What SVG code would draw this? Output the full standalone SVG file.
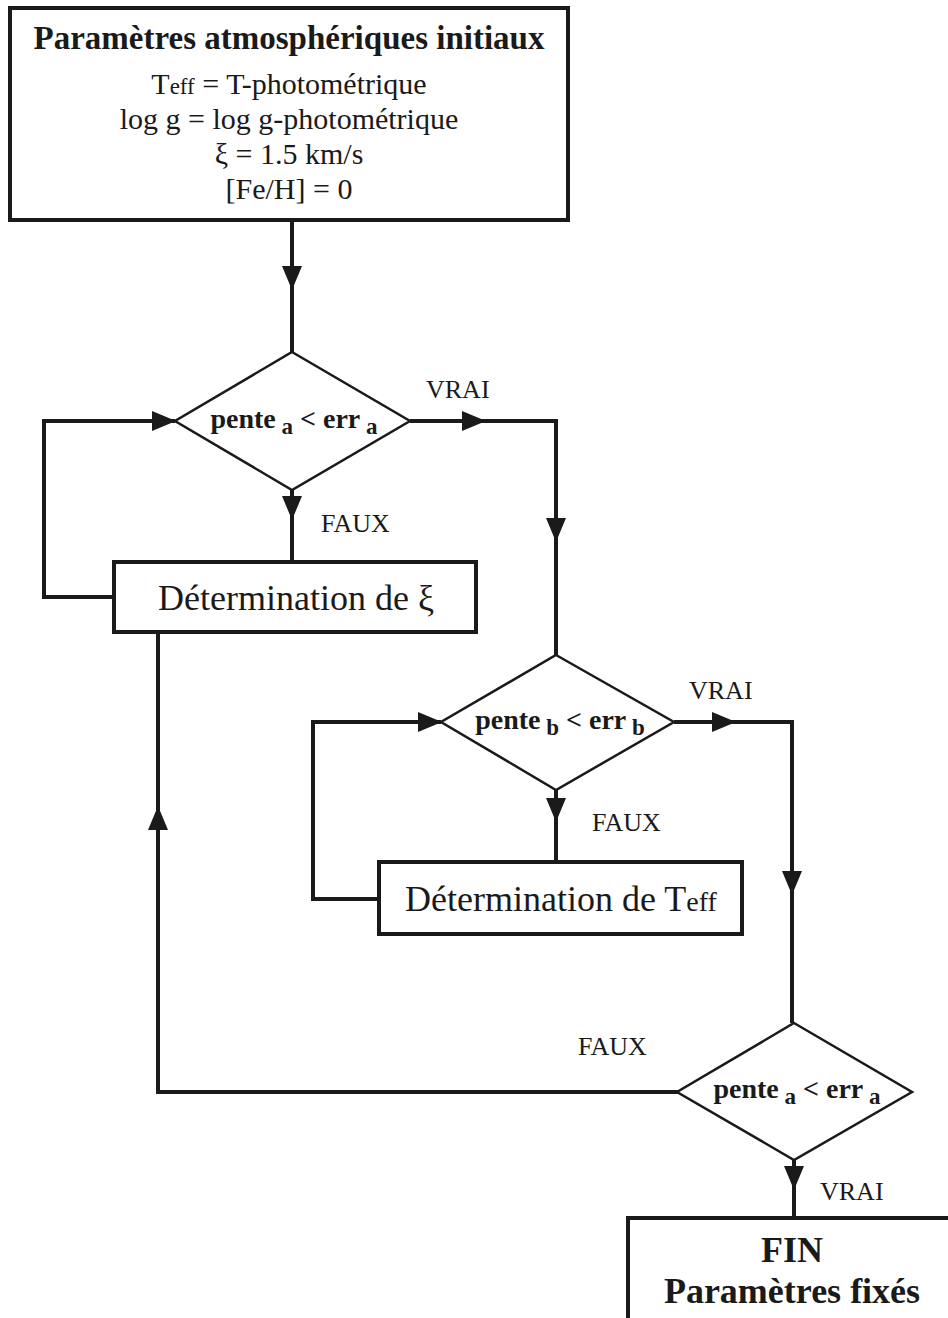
<svg xmlns="http://www.w3.org/2000/svg" width="948" height="1318" viewBox="0 0 948 1318">
<style>
.box{fill:#fff;stroke:#1a1a1a;stroke-width:4}
.dia{fill:#fff;stroke:#1a1a1a;stroke-width:2.5}
.ln{fill:none;stroke:#1a1a1a;stroke-width:4}
.t{font-family:"Liberation Serif","Times New Roman",serif;fill:#1a1a1a;text-anchor:middle}
.b{font-weight:bold}
.lab{font-family:"Liberation Serif","Times New Roman",serif;fill:#1a1a1a;font-size:26px}
</style>
<defs>
<path id="ah" d="M0,0 L-24,-10 L-24,10 Z" fill="#1a1a1a"/>
</defs>
<rect width="948" height="1318" fill="#fff"/>
<g id="connectors">
<path class="ln" d="M292,220 V352"/>
<path class="ln" d="M410,421 H556 V655"/>
<path class="ln" d="M292,490 V562"/>
<path class="ln" d="M114,597 H44 V421 H175"/>
<path class="ln" d="M678,1092 H158 V632"/>
<path class="ln" d="M674,722 H792 V1023"/>
<path class="ln" d="M556,790 V862"/>
<path class="ln" d="M379,899 H313 V722 H441"/>
<path class="ln" d="M794,1160 V1218"/>
<use href="#ah" transform="translate(292,290) rotate(90)"/>
<use href="#ah" transform="translate(486,421)"/>
<use href="#ah" transform="translate(556,542) rotate(90)"/>
<use href="#ah" transform="translate(176,421)"/>
<use href="#ah" transform="translate(292,520) rotate(90)"/>
<use href="#ah" transform="translate(158,806) rotate(-90)"/>
<use href="#ah" transform="translate(442,722)"/>
<use href="#ah" transform="translate(736,722)"/>
<use href="#ah" transform="translate(792,895) rotate(90)"/>
<use href="#ah" transform="translate(556,822) rotate(90)"/>
<use href="#ah" transform="translate(794,1190) rotate(90)"/>
<text class="lab" x="426" y="398">VRAI</text>
<text class="lab" x="321" y="532">FAUX</text>
<text class="lab" x="689" y="699">VRAI</text>
<text class="lab" x="592" y="831">FAUX</text>
<text class="lab" x="578" y="1055">FAUX</text>
<text class="lab" x="820" y="1200">VRAI</text>
</g>
<g id="init">
<rect class="box" x="10" y="8" width="558" height="212"/>
<text class="t b" x="289" y="49" font-size="33">Paramètres atmosphériques initiaux</text>
<text class="t" x="289" y="94" font-size="30">T<tspan font-size="23">eff</tspan> = T-photométrique</text>
<text class="t" x="289" y="129" font-size="30">log g = log g-photométrique</text>
<text class="t" x="289" y="164" font-size="30">ξ = 1.5 km/s</text>
<text class="t" x="289" y="199" font-size="30">[Fe/H] = 0</text>
</g>
<g id="dec1">
<polygon class="dia" points="292,352 410,421 292,490 175,421"/>
<text class="t b" x="294" y="428" font-size="28">pente<tspan font-size="23" dy="6"> a</tspan><tspan dy="-6"> &lt; err</tspan><tspan font-size="23" dy="6"> a</tspan></text>
</g>
<g id="detxi">
<rect class="box" x="114" y="562" width="362" height="70"/>
<text class="t" x="296" y="610" font-size="36">Détermination de ξ</text>
</g>
<g id="dec2">
<polygon class="dia" points="556,655 674,722 556,790 441,722"/>
<text class="t b" x="560" y="729" font-size="28">pente<tspan font-size="23" dy="6"> b</tspan><tspan dy="-6"> &lt; err</tspan><tspan font-size="23" dy="6"> b</tspan></text>
</g>
<g id="detteff">
<rect class="box" x="379" y="862" width="363" height="72"/>
<text class="t" x="561" y="911" font-size="36">Détermination de T<tspan font-size="28">eff</tspan></text>
</g>
<g id="dec3">
<polygon class="dia" points="794,1023 912,1092 794,1160 677,1092"/>
<text class="t b" x="797" y="1098" font-size="28">pente<tspan font-size="23" dy="6"> a</tspan><tspan dy="-6"> &lt; err</tspan><tspan font-size="23" dy="6"> a</tspan></text>
</g>
<g id="fin">
<rect class="box" x="628" y="1218" width="330" height="110"/>
<text class="t b" x="792" y="1262" font-size="36">FIN</text>
<text class="t b" x="792" y="1303" font-size="36">Paramètres fixés</text>
</g>
</svg>
